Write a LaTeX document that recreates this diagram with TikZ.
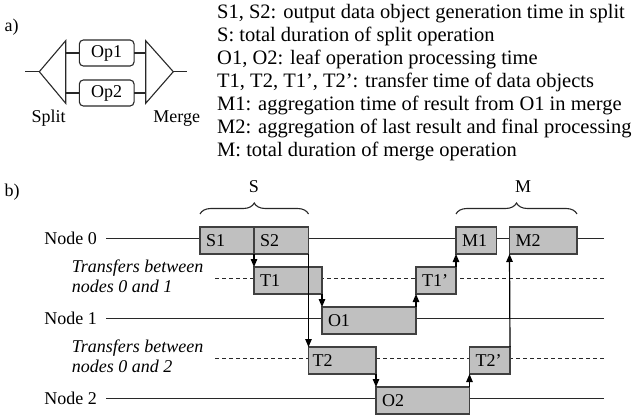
\documentclass[tikz,border=0pt]{standalone}
\usepackage{fontspec}
\setmainfont{Liberation Serif}
\usetikzlibrary{arrows.meta,decorations.pathreplacing}
\definecolor{boxfill}{RGB}{192,192,192}
\definecolor{boxline}{RGB}{64,64,64}
\definecolor{rule}{RGB}{40,40,40}

\begin{document}
\begin{tikzpicture}[x=1pt,y=-1pt,
  lab/.style={font=\fontsize{18}{20}\selectfont, inner sep=0pt},
  ital/.style={font=\fontsize{18}{20}\selectfont\itshape, inner sep=0pt, align=left, anchor=west},
  legend/.style={font=\fontsize{20.5}{23}\selectfont, inner sep=0pt, anchor=base west},
  tbox/.style={draw=boxline, fill=boxfill, line width=1.2pt, minimum height=27pt,
    inner ysep=0pt, inner xsep=6pt, outer sep=0pt, align=left, anchor=west,
    font=\fontsize{18}{20}\selectfont},
  opbox/.style={draw=rule, line width=1.1pt, rounded corners=4pt, minimum width=54.7pt,
    minimum height=26pt, inner sep=0pt, outer sep=0pt, font=\fontsize{18}{20}\selectfont},
  partline/.style={draw=rule, line width=1.1pt},
  timeline/.style={draw=rule, line width=1pt},
  xfer/.style={draw=rule, line width=1pt, dash pattern=on 4pt off 3pt},
  flow/.style={draw=black, line width=1.2pt, -{Triangle[length=8pt,width=6.5pt]}},
  span/.style={draw=rule, line width=1.1pt, decorate, decoration={brace, amplitude=11pt}},
]
\useasboundingbox (0,0) rectangle (640,417);

% ---------- a) split / merge structure ----------
\node[lab] (a) at (11.5,26.7) {a)};
\coordinate (in)    at (25,71.7);
\coordinate (sapex) at (39.3,71.7);
\coordinate (stop)  at (65.7,40.7);
\coordinate (sbot)  at (65.7,103.3);
\coordinate (mtop)  at (145.7,40.7);
\coordinate (mbot)  at (145.7,103.3);
\coordinate (mapex) at (173.3,71.7);
\coordinate (out)   at (187.3,71.7);
\node[opbox] (op1) at (106.7,53) {Op1};
\node[opbox] (op2) at (106.7,93) {Op2};
\draw[partline] (in) -- (sapex);
\draw[partline] (stop) -- (sapex) -- (sbot) -- cycle;
\draw[partline] (mtop) -- (mapex) -- (mbot) -- cycle;
\draw[partline] (mapex) -- (out);
\draw[partline] (op1.west -| stop) -- (op1.west);
\draw[partline] (op2.west -| stop) -- (op2.west);
\draw[partline] (op1.east) -- (op1.east -| mtop);
\draw[partline] (op2.east) -- (op2.east -| mtop);
\node[lab] (split) at (48.7,118.3) {Split};
\node[lab] (merge) at (176.7,118.3) {Merge};

% ---------- legend ----------
\node[legend] (l1) at (217,19)  {S1, S2: output data object generation time in split};
\node[legend] (l2) at (217,42)  {S: total duration of split operation};
\node[legend] (l3) at (217,65)  {O1, O2: leaf operation processing time};
\node[legend] (l4) at (217,88)  {T1, T2, T1', T2': transfer time of data objects};
\node[legend] (l5) at (217,111) {M1: aggregation time of result from O1 in merge};
\node[legend] (l6) at (217,134) {M2: aggregation of last result and final processing};
\node[legend] (l7) at (217,157) {M: total duration of merge operation};

% ---------- b) timing chart ----------
\node[lab] (b) at (12,191.7) {b)};

% row labels and time lines
\node[lab, anchor=east] (n0) at (97,238.3) {Node 0};
\node[lab, anchor=east] (n1) at (97,318.3) {Node 1};
\node[lab, anchor=east] (n2) at (97,398.7) {Node 2};
\node[ital] (x01) at (71.7,276.7) {Transfers between\\nodes 0 and 1};
\node[ital] (x02) at (71.7,356.7) {Transfers between\\nodes 0 and 2};

\coordinate (e0) at (604,238.3);
\coordinate (e1) at (604,318.3);
\coordinate (e2) at (604,398.7);
\coordinate (d01s) at (215,278.3);
\coordinate (d01e) at (604,278.3);
\coordinate (d02s) at (215,358.3);
\coordinate (d02e) at (604,358.3);

\draw[timeline] ([xshift=9pt]n0.east) -- (e0);
\draw[timeline] ([xshift=9pt]n1.east) -- (e1);
\draw[timeline] ([xshift=9pt]n2.east) -- (e2);
\draw[xfer] (d01s) -- (d01e);
\draw[xfer] (d02s) -- (d02e);

% activity boxes
\node[tbox, text width=42pt]   (S1)  at (200,240.5)   {S1};
\node[tbox, text width=42.5pt] (S2)  at (254,240.5)   {S2};
\node[tbox, text width=28.5pt] (M1)  at (456,240.5)   {M1};
\node[tbox, text width=55.5pt] (M2)  at (509.5,240.5) {M2};
\node[tbox, text width=56pt]   (T1)  at (254,280.5)   {T1};
\node[tbox, text width=28pt]   (T1p) at (416,280.5)   {T1'};
\node[tbox, text width=82pt]   (O1)  at (322,320.5)   {O1};
\node[tbox, text width=59.5pt, inner xsep=4pt] (T2) at (308.5,360.5) {T2};
\node[tbox, text width=28.5pt] (T2p) at (469.5,360.5) {T2'};
\node[tbox, text width=81.5pt] (O2)  at (376,400.5)   {O2};

% data flow between activities
\draw[flow] (S1.south east) -- (T1.north west);
\draw[flow] (S2.south east) -- (T2.north west);
\draw[flow] (T1.south east) -- (O1.north west);
\draw[flow] (T2.south east) -- (O2.north west);
\draw[flow] (O1.north east) -- (T1p.south west);
\draw[flow] (T1p.north east) -- (M1.south west);
\draw[flow] (O2.north east) -- (T2p.south west);
\draw[flow] (T2p.north east) -- (M2.south west);

% duration braces
\draw[span] ([yshift=13pt]S1.north west) -- ([yshift=13pt]S2.north east);
\draw[span] ([yshift=13pt]M1.north west) -- ([yshift=13pt]M2.north east);
\node[lab] (Slab) at (254,187) {S};
\node[lab] (Mlab) at (523,187) {M};
\end{tikzpicture}
\end{document}
